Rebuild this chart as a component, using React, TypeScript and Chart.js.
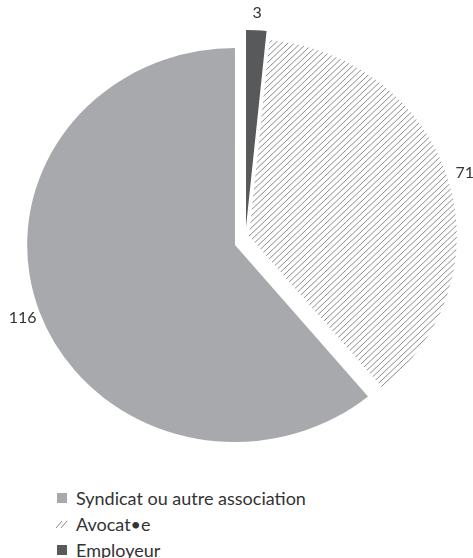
import React, { useEffect, useRef } from 'react';
import { Chart, registerables } from 'chart.js';

Chart.register(...registerables);

// ---- data (legend order) ----
const categories = ['Syndicat ou autre association', 'Avocat•e', 'Employeur'];
const counts = [116, 71, 3];
const valueLabels = ['116', '71', '3'];
// order of the slices clockwise from 12 o'clock: Employeur, Avocat•e, Syndicat
const drawOrder = [2, 1, 0];

// ---- styles ----
const SOLID_COLORS = ['#a7a9ac', null, '#58595b'];
const HATCH_COLOR = '#8a8a8a';
const EXPLODE = [
  { dx: 0, dy: 0 },
  { dx: 14, dy: -9 },
  { dx: 11, dy: -18 },
];
const STRETCH_X = 1.055;
const RADIUS = 197;
const LABEL_PAD = 17;
const FONT = 'Lato, "Open Sans", sans-serif';
const TEXT_COLOR = '#333333';

function makeHatch(ctx: CanvasRenderingContext2D): CanvasPattern | string {
  const c = document.createElement('canvas');
  c.width = 6;
  c.height = 6;
  const g = c.getContext('2d');
  if (!g) return HATCH_COLOR;
  g.fillStyle = '#ffffff';
  g.fillRect(0, 0, 6, 6);
  g.strokeStyle = HATCH_COLOR;
  g.lineWidth = 1;
  g.beginPath();
  g.moveTo(-1, 7); g.lineTo(7, -1);
  g.moveTo(-3, 3); g.lineTo(3, -3);
  g.moveTo(3, 9); g.lineTo(9, 3);
  g.stroke();
  return ctx.createPattern(c, 'repeat') || HATCH_COLOR;
}

const explodePlugin = {
  id: 'explodeSlices',
  beforeDatasetDraw(chart: any, args: any) {
    const ctx = chart.ctx;
    const meta = args.meta;
    meta.data.forEach((arc: any, j: number) => {
      const e = EXPLODE[drawOrder[j]];
      const cx = arc.x;
      const cy = arc.y;
      ctx.save();
      ctx.translate(cx + e.dx, cy + e.dy);
      ctx.scale(STRETCH_X, 1);
      ctx.translate(-cx, -cy);
      arc.draw(ctx, chart.chartArea);
      ctx.restore();
    });
    return false;
  },
  afterDatasetsDraw(chart: any) {
    const ctx = chart.ctx;
    const meta = chart.getDatasetMeta(0);
    ctx.save();
    ctx.font = `16px ${FONT}`;
    ctx.fillStyle = TEXT_COLOR;
    ctx.textAlign = 'center';
    ctx.textBaseline = 'middle';
    meta.data.forEach((arc: any, j: number) => {
      const src = drawOrder[j];
      const e = EXPLODE[src];
      const mid = (arc.startAngle + arc.endAngle) / 2;
      const r = arc.outerRadius + LABEL_PAD;
      const x = arc.x + e.dx + STRETCH_X * r * Math.cos(mid);
      const y = arc.y + e.dy + r * Math.sin(mid);
      ctx.fillText(valueLabels[src], x, y);
    });
    ctx.restore();
  },
};

function HatchIcon() {
  return (
    <svg width="14" height="12" viewBox="0 0 14 12" style={{ display: 'block' }}>
      <line x1="1" y1="10" x2="7" y2="3" stroke="#8a8a8a" strokeWidth="1" />
      <line x1="6" y1="10" x2="12" y2="3" stroke="#8a8a8a" strokeWidth="1" />
    </svg>
  );
}

export default function App() {
  const canvasRef = useRef<HTMLCanvasElement | null>(null);

  useEffect(() => {
    const canvas = canvasRef.current;
    if (!canvas) return;
    const ctx = canvas.getContext('2d');
    if (!ctx) return;
    const hatch = makeHatch(ctx);
    const chart = new Chart(canvas, {
      type: 'pie',
      data: {
        labels: drawOrder.map((i) => categories[i]),
        datasets: [
          {
            data: drawOrder.map((i) => counts[i]),
            backgroundColor: drawOrder.map((i) => (SOLID_COLORS[i] ? (SOLID_COLORS[i] as string) : hatch)) as any,
            borderWidth: 0,
            radius: RADIUS,
          } as any,
        ],
      },
      options: {
        responsive: false,
        animation: false,
        events: [],
        layout: { padding: { left: 0, right: 3, top: 20, bottom: 0 } },
        plugins: {
          legend: { display: false },
          tooltip: { enabled: false },
        },
      },
      plugins: [explodePlugin as any],
    });
    return () => chart.destroy();
  }, []);

  const swatch = (i: number) => {
    if (i === 1) return <HatchIcon />;
    return <div style={{ width: 10, height: 10, background: SOLID_COLORS[i] as string, margin: '0 2px' }} />;
  };

  return (
    <div style={{ position: 'absolute', left: 0, top: 0, width: 473, height: 558, background: '#fff' }}>
      <canvas ref={canvasRef} width={473} height={470} style={{ position: 'absolute', left: 0, top: 0 }} />
      <div
        style={{
          position: 'absolute',
          left: 55,
          top: 485,
          fontFamily: FONT,
          fontSize: 18,
          color: TEXT_COLOR,
        }}
      >
        {categories.map((name, i) => (
          <div key={name} style={{ display: 'flex', alignItems: 'center', height: 26 }}>
            <div style={{ width: 14, display: 'flex', justifyContent: 'center' }}>{swatch(i)}</div>
            <span style={{ marginLeft: 7, whiteSpace: 'nowrap' }}>{name}</span>
          </div>
        ))}
      </div>
    </div>
  );
}
